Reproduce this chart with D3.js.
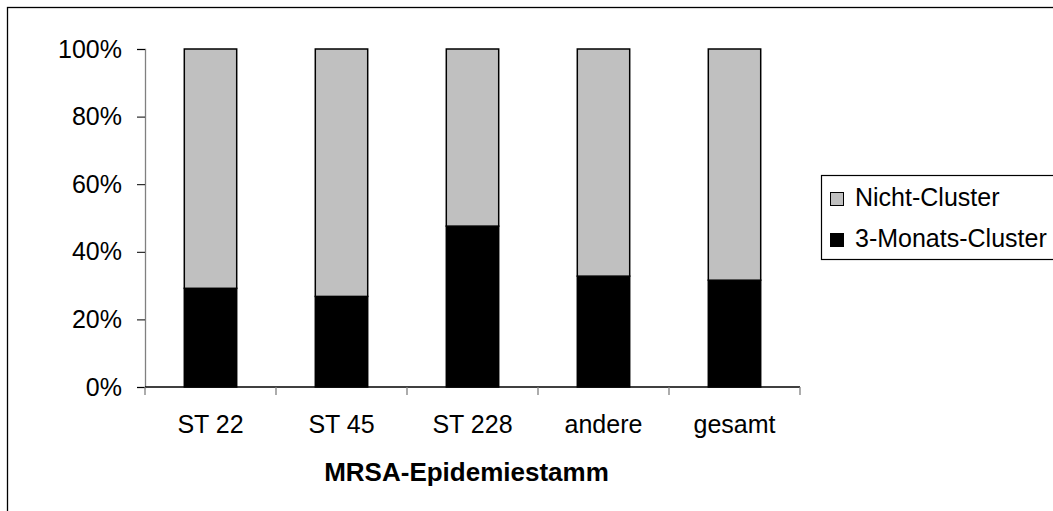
<!DOCTYPE html>
<html>
<head>
<meta charset="utf-8">
<script src="https://cdn.jsdelivr.net/npm/d3@7"></script>
<style>
  body { margin: 0; background: #fff; }
  text { font-family: "Liberation Sans", Arial, sans-serif; }
</style>
</head>
<body>
<div id="chart"></div>
<script>
// data (share of 3-Monats-Cluster per strain)
const categories = ["ST 22", "ST 45", "ST 228", "andere", "gesamt"];
const clusterShare = [0.292, 0.268, 0.476, 0.328, 0.316];
const nonClusterShare = [0.708, 0.732, 0.524, 0.672, 0.684];
const yTicks = [0, 0.2, 0.4, 0.6, 0.8, 1.0];
const seriesNames = ["Nicht-Cluster", "3-Monats-Cluster"];
const seriesColors = ["#c0c0c0", "#000000"];

const W = 1053, H = 511;
const margin = { top: 49, left: 145 };
const width = 655, height = 338;

const svg = d3.select("#chart").append("svg")
    .attr("width", W)
    .attr("height", H);

// outer chart frame (runs off the right and bottom edge)
svg.append("rect")
    .attr("x", 7.5).attr("y", 7.5)
    .attr("width", W + 20).attr("height", H + 20)
    .attr("fill", "none")
    .attr("stroke", "#000")
    .attr("stroke-width", 1.3);

const g = svg.append("g")
    .attr("transform", `translate(${margin.left},${margin.top})`);

const x = d3.scaleBand().domain(categories).range([0, width]).paddingInner(0.6).paddingOuter(0.3);
const xTicks = d3.scaleBand().domain(categories).range([0, width]);
const y = d3.scaleLinear().domain([0, 1]).range([height, 0]);

// stacked values
const rows = categories.map((c, i) => ({ cat: c, cluster: clusterShare[i], non: nonClusterShare[i] }));
const stack = d3.stack().keys(["cluster", "non"])(rows);

// bars: bottom black, top gray
g.selectAll(".layer")
    .data(stack)
    .enter().append("g")
    .attr("fill", d => d.key === "cluster" ? seriesColors[1] : seriesColors[0])
    .selectAll("rect")
    .data(d => d)
    .enter().append("rect")
    .attr("x", d => x(d.data.cat))
    .attr("y", d => y(d[1]))
    .attr("width", x.bandwidth())
    .attr("height", d => y(d[0]) - y(d[1]))
    .attr("stroke", "#000")
    .attr("stroke-width", 1.5);

// y axis
const yAxis = g.append("g")
    .call(d3.axisLeft(y).tickValues(yTicks).tickFormat(d3.format(".0%")).tickSize(8).tickPadding(15));
yAxis.select(".domain").attr("stroke", "#808080").attr("stroke-width", 1.3);
yAxis.selectAll(".tick line").attr("stroke", "#000");
yAxis.selectAll("text").style("font-size", "25px").attr("fill", "#000");

// x axis
const xAxisG = g.append("g").attr("transform", `translate(0,${height})`);
xAxisG.append("line")
    .attr("x1", 0).attr("x2", width)
    .attr("stroke", "#000").attr("stroke-width", 1.3);
xAxisG.selectAll(".xt")
    .data(categories.concat(["_end"]))
    .enter().append("line")
    .attr("x1", (d, i) => i < categories.length ? xTicks(d) : width)
    .attr("x2", (d, i) => i < categories.length ? xTicks(d) : width)
    .attr("y1", 0).attr("y2", 8)
    .attr("stroke", "#808080").attr("stroke-width", 1.3);
xAxisG.selectAll(".xl")
    .data(categories)
    .enter().append("text")
    .attr("x", d => xTicks(d) + xTicks.bandwidth() / 2)
    .attr("y", 46)
    .attr("text-anchor", "middle")
    .style("font-size", "25px")
    .text(d => d);

// x title
g.append("text")
    .attr("x", width / 2 - 6)
    .attr("y", height + 94)
    .attr("text-anchor", "middle")
    .style("font-size", "26px")
    .style("font-weight", "bold")
    .text("MRSA-Epidemiestamm");

// legend
const legend = svg.append("g").attr("transform", "translate(821,175)");
legend.append("rect")
    .attr("x", 0.5).attr("y", 0.5)
    .attr("width", 260).attr("height", 84)
    .attr("fill", "#fff")
    .attr("stroke", "#000")
    .attr("stroke-width", 1.2);

seriesNames.forEach((name, i) => {
    legend.append("rect")
        .attr("x", 9.5).attr("y", 17.5 + i * 41)
        .attr("width", 13).attr("height", 13)
        .attr("fill", seriesColors[i])
        .attr("stroke", "#000")
        .attr("stroke-width", 1);
    legend.append("text")
        .attr("x", 34)
        .attr("y", 31 + i * 41)
        .style("font-size", "25px")
        .text(name);
});
</script>
</body>
</html>
